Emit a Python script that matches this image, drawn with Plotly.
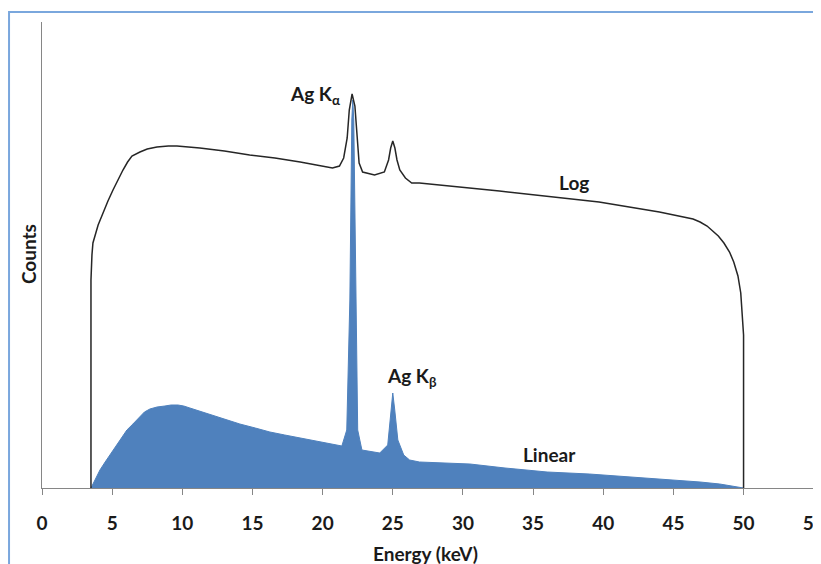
import plotly.graph_objects as go

# Energy (keV) and relative counts (arbitrary units)
log_energy = [3.49, 3.49, 3.56, 3.63, 4.0, 4.34, 4.7, 5.06, 5.4, 5.77, 6.1, 6.41, 6.98, 7.5,
              8.19, 9.0, 9.62, 11.25, 13.0, 14.8, 16.6, 18.4, 20.7, 21.2, 21.5, 21.75, 21.9,
              22.1, 22.3, 22.45, 22.6, 22.85, 23.7, 24.4, 24.7, 24.85, 25.0, 25.15, 25.3,
              25.5, 25.9, 26.35, 26.9, 32.6, 39.7, 44.0, 45.4, 46.4, 46.9, 47.4, 47.8,
              48.2, 48.6, 49.0, 49.3, 49.6, 49.8, 49.93, 50.0, 50.0]
log_counts = [0, 208, 233, 245, 263, 275, 287, 298, 308, 318, 326, 332, 336, 339,
              341, 342, 342, 340, 337, 333, 330, 326, 320, 322, 330, 350, 378,
              394, 382, 350, 325, 316, 313, 316, 328, 340, 347, 340, 328,
              318, 310, 305, 305, 297, 286, 276, 272, 269, 266, 262, 257,
              252, 245, 236, 226, 212, 195, 170, 153, 0]

lin_energy = [3.49, 3.85, 4.13, 4.5, 4.84, 5.2, 5.56, 6.05, 6.48, 6.98, 7.3, 7.69, 8.2,
              8.76, 9.2, 9.69, 10.1, 10.54, 11.2, 11.97, 13.0, 14.1, 15.2, 16.24, 17.3,
              18.38, 19.4, 20.5, 21.37, 21.72, 21.94, 22.08, 22.15, 22.22, 22.36, 22.5,
              22.8, 24.07, 24.64, 24.86, 25.0, 25.14, 25.36, 25.78, 26.2, 26.9, 28.5,
              30.5, 33.0, 36.0, 39.0, 41.0, 43.3, 45.0, 46.9, 48.3, 49.4, 50.0]
lin_counts = [0, 10, 18, 26, 33, 41, 48, 58, 64, 72, 76, 79, 81,
              82, 83, 83, 82, 80, 77, 74, 69, 64, 60, 56, 53,
              50, 47, 44, 42, 58, 188, 368, 388, 368, 188, 58,
              38, 35, 43, 78, 95, 78, 48, 33, 28, 26, 25,
              24, 20, 16, 14, 12, 10, 8, 6, 4, 1, 0]

x_ticks = [0, 5, 10, 15, 20, 25, 30, 35, 40, 45, 50, 55]

BLUE = "#4F81BD"
FONT = "Lato"
TXT = 19

fig = go.Figure()
fig.add_trace(go.Scatter(x=lin_energy, y=lin_counts, mode="lines", fill="tozeroy",
                         fillcolor=BLUE, line=dict(color=BLUE, width=1),
                         hoverinfo="skip", showlegend=False))
fig.add_trace(go.Scatter(x=log_energy, y=log_counts, mode="lines",
                         line=dict(color="#262626", width=1.5),
                         hoverinfo="skip", showlegend=False))

fig.update_layout(
    width=813, height=556,
    margin=dict(l=34, r=7, t=14, b=76, autoexpand=False),
    paper_bgcolor="white", plot_bgcolor="white",
    font=dict(family=FONT, size=TXT, color="#1a1a1a"),
    xaxis=dict(range=[0, 55.02], tickvals=x_ticks, ticktext=[str(v) for v in x_ticks],
               showgrid=False, zeroline=False, showline=True, linecolor="#868686",
               linewidth=1, ticks="outside", ticklen=6, tickcolor="#868686",
               ticklabelstandoff=12, automargin=False, ticklabeloverflow="allow",
               tickfont=dict(family=FONT, size=TXT, color="#1a1a1a", weight="bold")),
    yaxis=dict(range=[0, 466], showgrid=False, zeroline=False, showline=True,
               linecolor="#868686", linewidth=1, showticklabels=False, ticks="",
               automargin=False),
    shapes=[dict(type="rect", xref="paper", yref="paper",
                 x0=-0.0427, x1=1.05, y0=-0.5, y1=1.0215,
                 line=dict(color="#7AA7DD", width=2), layer="above")],
    annotations=[
        dict(text="<b>Energy (keV)</b>", xref="paper", yref="paper", x=0.497, y=0,
             yanchor="middle", yshift=-65, showarrow=False, font=dict(size=TXT)),
        dict(text="<b>Counts</b>", xref="paper", yref="paper", x=0, y=0.502,
             xanchor="center", xshift=-14, textangle=-90, showarrow=False,
             font=dict(size=TXT)),
        dict(text="<b>Ag K<sub>α</sub></b>", x=19.44, y=393, showarrow=False,
             font=dict(size=TXT)),
        dict(text="<b>Ag K<sub>β</sub></b>", x=26.4, y=111, showarrow=False,
             font=dict(size=TXT)),
        dict(text="<b>Log</b>", x=37.95, y=306, showarrow=False, font=dict(size=TXT)),
        dict(text="<b>Linear</b>", x=36.2, y=34, showarrow=False, font=dict(size=TXT)),
    ],
)

fig.write_html("out.html")
